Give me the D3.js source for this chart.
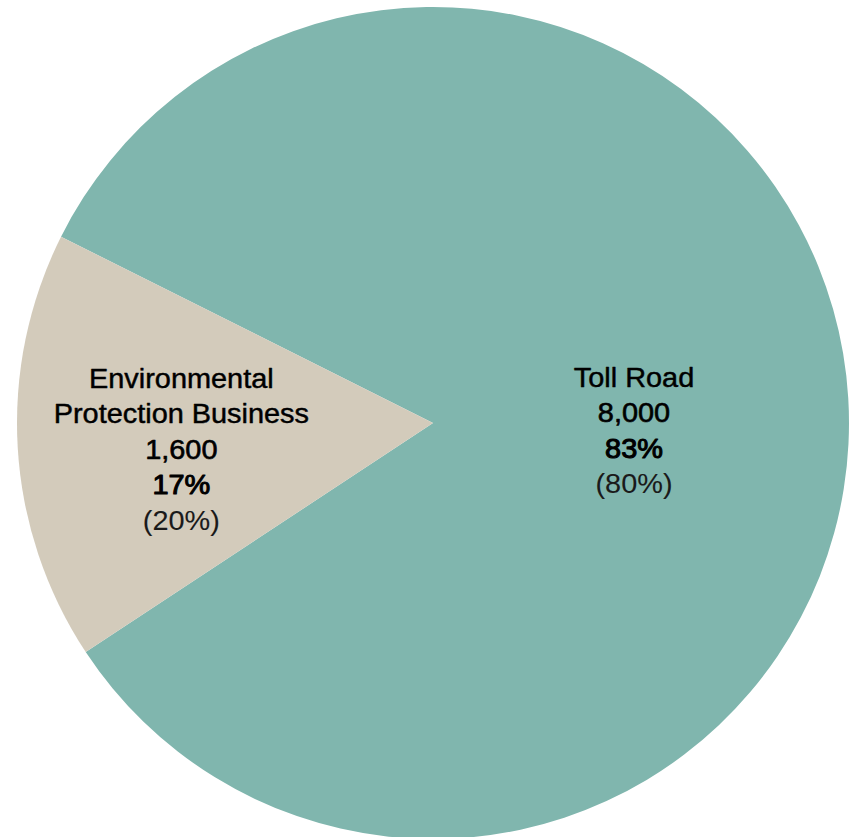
<!DOCTYPE html>
<html>
<head>
<meta charset="utf-8">
<script src="https://cdn.jsdelivr.net/npm/d3@7"></script>
<style>
  html, body { margin: 0; padding: 0; background: #ffffff; }
  svg { display: block; }
  text { font-family: "Liberation Sans", Arial, Helvetica, sans-serif; }
</style>
</head>
<body>
<svg id="chart" width="854" height="837"></svg>
<script>
// Revenue split by business segment
const segments = ["Toll Road", "Environmental Protection Business"];
const nameLines = [["Toll Road"], ["Environmental", "Protection Business"]];
const values = [8000, 1600];
const priorShare = [80, 20];           // share in the previous period, %
const colors = ["#80b6ae", "#d3cbbb"];

const width = 854, height = 837;
const cx = 433, cy = 423, radius = 416;

const svg = d3.select("#chart");
const g = svg.append("g").attr("transform", `translate(${cx},${cy})`);

const total = d3.sum(values);
const data = segments.map((s, i) => ({
  name: s, lines: nameLines[i], value: values[i], prior: priorShare[i], color: colors[i]
}));

const startDeg = -63.4;
const pie = d3.pie()
  .sort(null)
  .value(d => d.value)
  .startAngle(startDeg * Math.PI / 180)
  .endAngle((startDeg + 360) * Math.PI / 180);

const arc = d3.arc().innerRadius(0).outerRadius(radius);
const arcs = pie(data);

g.selectAll("path.slice")
  .data(arcs)
  .join("path")
  .attr("class", "slice")
  .attr("d", arc)
  .attr("fill", d => d.data.color);

// Label placement: distance from the centre as a fraction of the radius,
// and a vertical shift of the first baseline relative to that point.
const labelFrac = [0.484, 0.606];
const firstShift = [-24.5, -50];
const lineH = 35.5;
const fmt = d3.format(",");

arcs.forEach((a, i) => {
  const r = radius * labelFrac[i];
  const lArc = d3.arc().innerRadius(r).outerRadius(r);
  const [lx, ly] = lArc.centroid(a);
  const rows = [];
  a.data.lines.forEach(t => rows.push({ t, sw: 0.45, c: "#000" }));
  rows.push({ t: fmt(a.data.value), sw: 0.6, c: "#000" });
  rows.push({ t: Math.round(a.data.value / total * 100) + "%", sw: 1.05, c: "#000" });
  rows.push({ t: "(" + a.data.prior + "%)", sw: 0.1, c: "#1a1a1a" });

  const lg = g.append("g")
    .attr("transform", `translate(${lx},${ly + firstShift[i]}) scale(1.07,1)`);
  lg.selectAll("text")
    .data(rows)
    .join("text")
    .attr("x", 0)
    .attr("y", (d, k) => k * lineH)
    .attr("text-anchor", "middle")
    .attr("font-size", 27)
    .attr("fill", d => d.c)
    .attr("stroke", d => d.c)
    .attr("stroke-width", d => d.sw)
    .attr("stroke-linejoin", "round")
    .text(d => d.t);
});
</script>
</body>
</html>
